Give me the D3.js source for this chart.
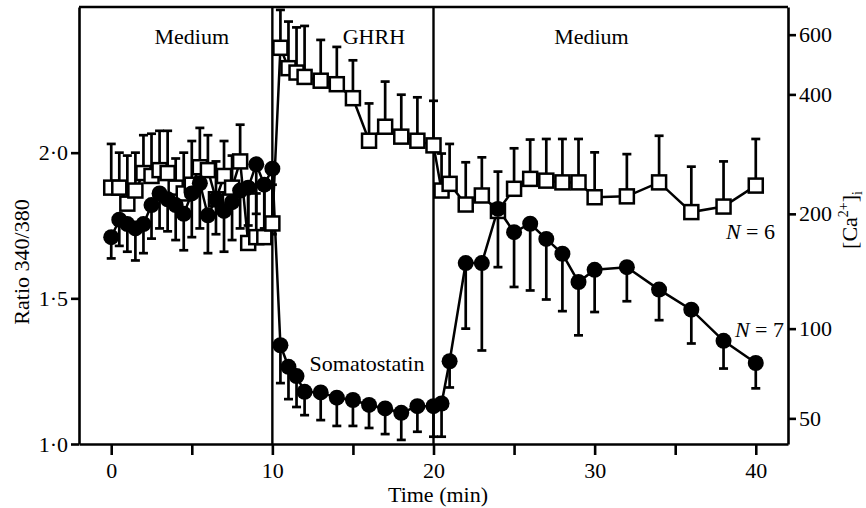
<!DOCTYPE html>
<html>
<head>
<meta charset="utf-8">
<script src="https://cdn.jsdelivr.net/npm/d3@7"></script>
<style>
  html, body { margin: 0; padding: 0; background: #fff; }
  svg { display: block; }
  text { font-family: "Liberation Serif", "DejaVu Serif", serif; fill: #000; }
</style>
</head>
<body>
<svg id="chart" width="866" height="508"></svg>
<script>
// ---- data ----
const times = [0,0.5,1,1.5,2,2.5,3,3.5,4,4.5,5,5.5,6,6.5,7,7.5,8,8.5,9,9.5,10,
  10.5,11,11.5,12,13,14,15,16,17,18,19,20,
  20.5,21,22,23,24,25,26,27,28,29,30,32,34,36,38,40];

// GHRH (open squares), ratio 340/380, mean and SEM (bars upward)
const ghrhMean = [1.88,1.88,1.825,1.87,1.93,1.92,1.94,1.93,1.88,1.86,1.89,1.95,1.94,1.84,1.92,1.88,1.97,1.69,1.71,1.71,1.757,
  2.36,2.29,2.275,2.26,2.247,2.235,2.187,2.041,2.089,2.055,2.041,2.025,
  1.87,1.893,1.822,1.853,1.80,1.876,1.91,1.904,1.898,1.898,1.847,1.85,1.898,1.796,1.815,1.887];
const ghrhSem = [0.15,0.12,0.165,0.13,0.13,0.145,0.135,0.145,0.10,0.14,0.15,0.135,0.12,0.13,0.12,0.11,0.126,0.18,0.15,0.17,0.133,
  0.13,0.16,0.155,0.175,0.14,0.128,0.13,0.128,0.155,0.144,0.149,0.153,
  0.127,0.137,0.145,0.131,0.135,0.139,0.135,0.143,0.149,0.149,0.154,0.145,0.16,0.156,0.155,0.16];

// Somatostatin (filled circles), mean and SEM (bars downward)
const sstMean = [1.71,1.77,1.755,1.74,1.755,1.82,1.86,1.84,1.82,1.79,1.86,1.895,1.785,1.84,1.80,1.83,1.87,1.88,1.96,1.89,1.945,
  1.339,1.265,1.233,1.179,1.177,1.159,1.151,1.134,1.122,1.107,1.13,1.13,
  1.139,1.284,1.621,1.621,1.807,1.727,1.756,1.704,1.653,1.556,1.598,1.607,1.53,1.461,1.354,1.278];
const sstSem = [0.073,0.09,0.095,0.11,0.10,0.115,0.12,0.11,0.12,0.125,0.15,0.155,0.13,0.12,0.14,0.13,0.13,0.13,0.17,0.15,0.225,
  0.13,0.111,0.106,0.08,0.095,0.097,0.089,0.079,0.088,0.093,0.088,0.105,
  0.114,0.09,0.225,0.30,0.20,0.188,0.229,0.208,0.197,0.183,0.145,0.117,0.105,0.116,0.095,0.087];

const xTicks = [0,5,10,15,20,25,30,35,40];
const xTickLabels = ["0","","10","","20","","30","","40"];
const ratioTicks = [1.0,1.5,2.0];
const ratioTickLabels = ["1·0","1·5","2·0"];
const caTickLabels = ["50","100","200","400","600"];
const caTickRatio = [1.088,1.396,1.79,2.20,2.405];
const periods = [{label:"Medium", t:5}, {label:"GHRH", t:16.3}, {label:"Medium", t:29.8}];
const boundaries = [10,20];

// ---- drawing ----
const svg = d3.select("#chart");
const x = d3.scaleLinear().domain([-2, 42]).range([79, 788]);
const y = d3.scaleLinear().domain([1.0, 2.5]).range([444, 7]);
const FS = 22;

// frame top
svg.append("line").attr("x1", x(-2)).attr("x2", x(42)).attr("y1", y(2.5)).attr("y2", y(2.5))
  .attr("stroke", "#000").attr("stroke-width", 2.6);

function styleAxis(g) {
  g.selectAll(".domain").attr("stroke", "#000").attr("stroke-width", 2.6);
  g.selectAll(".tick line").attr("stroke", "#000").attr("stroke-width", 2.6);
  g.selectAll(".tick text").attr("font-size", FS).attr("font-family", "Liberation Serif");
}

const xAxis = d3.axisBottom(x).tickValues(xTicks)
  .tickFormat((d, i) => xTickLabels[i]).tickSize(11).tickSizeOuter(0).tickPadding(7);
svg.append("g").attr("transform", `translate(0,${y(1.0)})`).call(xAxis).call(styleAxis);

const yAxis = d3.axisLeft(y).tickValues(ratioTicks)
  .tickFormat((d, i) => ratioTickLabels[i]).tickSize(8).tickSizeOuter(0).tickPadding(3);
svg.append("g").attr("transform", `translate(${x(-2)},0)`).call(yAxis).call(styleAxis);

const y2Axis = d3.axisRight(y).tickValues(caTickRatio)
  .tickFormat((d, i) => caTickLabels[i]).tickSize(8).tickSizeOuter(0).tickPadding(3);
svg.append("g").attr("transform", `translate(${x(42)},0)`).call(y2Axis).call(styleAxis);

// period boundaries
svg.selectAll("line.bound").data(boundaries).enter().append("line")
  .attr("x1", d => x(d)).attr("x2", d => x(d)).attr("y1", y(2.5)).attr("y2", y(1.0))
  .attr("stroke", "#000").attr("stroke-width", 2.4);

// period labels
svg.selectAll("text.period").data(periods).enter().append("text")
  .attr("x", d => x(d.t)).attr("y", 44).attr("text-anchor", "middle")
  .attr("font-size", FS).text(d => d.label);

const ghrh = times.map((t, i) => ({t, m: ghrhMean[i], e: ghrhSem[i]}));
const sst = times.map((t, i) => ({t, m: sstMean[i], e: sstSem[i]}));
const line = d3.line().x(d => x(d.t)).y(d => y(d.m));

// GHRH series
svg.append("path").datum(ghrh).attr("d", line).attr("fill", "none")
  .attr("stroke", "#000").attr("stroke-width", 2.5);
const eg = svg.append("g");
eg.selectAll("line.v").data(ghrh).enter().append("line")
  .attr("x1", d => x(d.t)).attr("x2", d => x(d.t)).attr("y1", d => y(d.m)).attr("y2", d => y(d.m + d.e))
  .attr("stroke", "#000").attr("stroke-width", 2.7);
eg.selectAll("line.c").data(ghrh).enter().append("line")
  .attr("x1", d => x(d.t) - 4.5).attr("x2", d => x(d.t) + 4.5).attr("y1", d => y(d.m + d.e)).attr("y2", d => y(d.m + d.e))
  .attr("stroke", "#000").attr("stroke-width", 2.7);

// Somatostatin series
svg.append("path").datum(sst).attr("d", line).attr("fill", "none")
  .attr("stroke", "#000").attr("stroke-width", 2.5);
const es = svg.append("g");
es.selectAll("line.v").data(sst).enter().append("line")
  .attr("x1", d => x(d.t)).attr("x2", d => x(d.t)).attr("y1", d => y(d.m)).attr("y2", d => y(d.m - d.e))
  .attr("stroke", "#000").attr("stroke-width", 2.7);
es.selectAll("line.c").data(sst).enter().append("line")
  .attr("x1", d => x(d.t) - 4.5).attr("x2", d => x(d.t) + 4.5).attr("y1", d => y(d.m - d.e)).attr("y2", d => y(d.m - d.e))
  .attr("stroke", "#000").attr("stroke-width", 2.7);

// markers
svg.append("g").selectAll("rect").data(ghrh).enter().append("rect")
  .attr("x", d => x(d.t) - 7).attr("y", d => y(d.m) - 7).attr("width", 14).attr("height", 14)
  .attr("fill", "#fff").attr("stroke", "#000").attr("stroke-width", 2.5);
svg.append("g").selectAll("circle").data(sst).enter().append("circle")
  .attr("cx", d => x(d.t)).attr("cy", d => y(d.m)).attr("r", 8).attr("fill", "#000");

// annotations
svg.append("text").attr("x", 367).attr("y", 371).attr("text-anchor", "middle")
  .attr("font-size", FS).text("Somatostatin");
const n6 = svg.append("text").attr("x", 775).attr("y", 239).attr("text-anchor", "end").attr("font-size", FS);
n6.append("tspan").attr("font-style", "italic").text("N");
n6.append("tspan").text(" = 6");
const n7 = svg.append("text").attr("x", 784).attr("y", 337).attr("text-anchor", "end").attr("font-size", FS);
n7.append("tspan").attr("font-style", "italic").text("N");
n7.append("tspan").text(" = 7");

// axis titles
svg.append("text").attr("x", 438).attr("y", 502).attr("text-anchor", "middle")
  .attr("font-size", FS).text("Time (min)");
svg.append("text").attr("transform", "translate(29,262) rotate(-90)").attr("text-anchor", "middle")
  .attr("font-size", FS).text("Ratio 340/380");
const ca = svg.append("text").attr("transform", "translate(857,220) rotate(-90)").attr("text-anchor", "middle")
  .attr("font-size", FS);
ca.append("tspan").text("[Ca");
ca.append("tspan").attr("font-size", 14).attr("dy", -9).text("2+");
ca.append("tspan").attr("dy", 9).text("]");
ca.append("tspan").attr("font-size", 14).attr("dy", 5).text("i");
</script>
</body>
</html>
